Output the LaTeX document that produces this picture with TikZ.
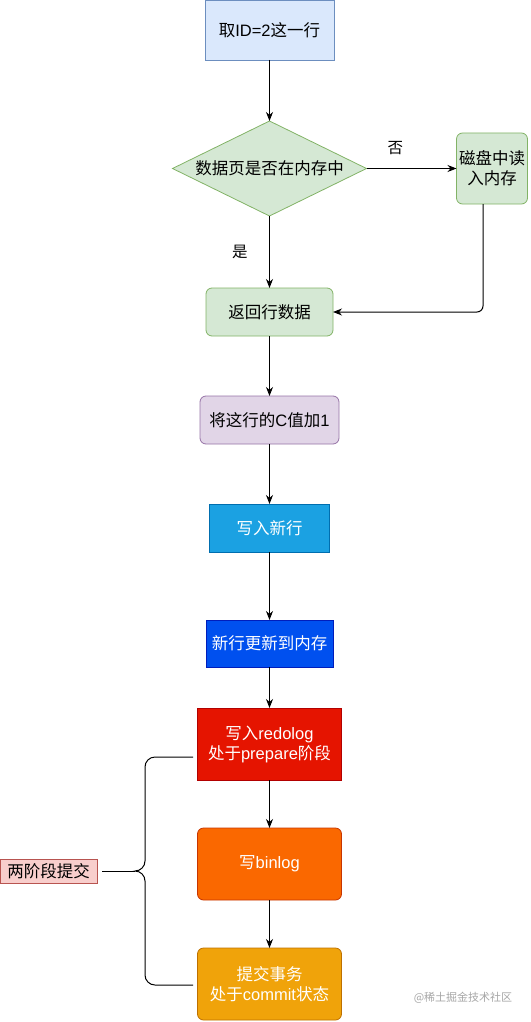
\documentclass[tikz,border=0pt]{standalone}
\usepackage{fontspec}
\setmainfont{Liberation Sans}
\newfontfamily\cjkfont{Noto Sans CJK SC}
\newcommand\zh[1]{{\cjkfont #1}}
\usepackage{tikz}
\usetikzlibrary{shapes.geometric,arrows.meta}
\usetikzlibrary{positioning}

\definecolor{idfill}{HTML}{DAE8FC}
\definecolor{idline}{HTML}{6C8EBF}
\definecolor{okfill}{HTML}{D5E8D4}
\definecolor{okline}{HTML}{82B366}
\definecolor{addfill}{HTML}{E1D5E7}
\definecolor{addline}{HTML}{9673A6}
\definecolor{newfill}{HTML}{1BA1E2}
\definecolor{newline}{HTML}{006EAF}
\definecolor{memfill}{HTML}{0050EF}
\definecolor{memline}{HTML}{001DBC}
\definecolor{redofill}{HTML}{E51400}
\definecolor{redoline}{HTML}{B20000}
\definecolor{binfill}{HTML}{FA6800}
\definecolor{binline}{HTML}{C73500}
\definecolor{cmtfill}{HTML}{F0A30A}
\definecolor{cmtline}{HTML}{BD7000}
\definecolor{twofill}{HTML}{F8CECC}
\definecolor{twoline}{HTML}{B85450}

\begin{document}
\begin{tikzpicture} [x=1pt,y=1pt,>={Stealth[length=9pt,width=7pt]},
    every node/.style={draw, line width=0.8pt, align=center, inner sep=0pt,
    outer sep=0pt, font=\fontsize{16.5pt}{20pt}\selectfont},
    box/.style={rectangle, minimum width=127pt, minimum height=48pt},
    rbox/.style={box, rounded corners=6pt},
    decide/.style={diamond, aspect=2.04, minimum width=194pt, minimum height=95pt},
    light/.style={text=white},
    con/.style={->, line width=1pt},
    lbl/.style={draw=none, font=\fontsize{15.5pt}{18pt}\cjkfont}
    ]
    \useasboundingbox (0,0) rectangle (530,-1022);
    \node (n1) [box, fill=idfill, draw=idline, minimum width=129pt,
      minimum height=60pt] at (269.5,-30) {\zh{取}ID=2\zh{这一行}};
    \node (n2) [decide, fill=okfill, draw=okline, below=61pt of n1]
      {\zh{数据页是否在内存中}};
    \node (n3) [rbox, fill=okfill, draw=okline, right=90pt of n2,
      minimum width=71pt, minimum height=71pt] {\zh{磁盘中读}\\\zh{入内存}};
    \node (n4) [rbox, fill=okfill, draw=okline, below=72pt of n2]
      {\zh{返回行数据}};
    \node (n5) [rbox, fill=addfill, draw=addline, below=60pt of n4,
      minimum width=139pt] {\zh{将这行的}C\zh{值加}1};
    \node (n6) [box, light, fill=newfill, draw=newline, below=60pt of n5,
      minimum width=120pt] {\zh{写入新行}};
    \node (n7) [box, light, fill=memfill, draw=memline, below=68pt of n6,
      minimum height=47pt] {\zh{新行更新到内存}};
    \node (n8) [box, light, fill=redofill, draw=redoline, below=41pt of n7,
      minimum width=144pt, minimum height=72pt]
      {\zh{写入}redolog\\\zh{处于}prepare\zh{阶段}};
    \node (n9) [rbox, light, fill=binfill, draw=binline, below=48pt of n8,
      minimum width=144pt, minimum height=72pt] {\zh{写}binlog};
    \node (n10) [rbox, light, fill=cmtfill, draw=cmtline, below=48pt of n9,
      minimum width=144pt, minimum height=72pt]
      {\zh{提交事务}\\\zh{处于}commit\zh{状态}};
    \node (n11) [rectangle, fill=twofill, draw=twoline, minimum width=97pt,
      minimum height=24pt] at (48.5,-871) {\zh{两阶段提交}};
    \node (mark) [draw=none, text=black!35, font=\fontsize{11pt}{13pt}\cjkfont]
      at (463,-998) {@稀土掘金技术社区};

    % brace round the two phases
    \coordinate (tip) at (135,-871);
    \draw [line width=1pt] (193,-757) -- (155,-757) to[out=180,in=90] (145,-767)
      -- (145,-861) to[out=-90,in=0] (tip) to[out=0,in=90] (145,-881)
      -- (145,-975) to[out=-90,in=180] (155,-985) -- (193,-985);

     \draw   [con]  (n1) -- (n2);
     \draw   [con]  (n2) -- node[lbl, pos=0.32, above=14pt] {否} (n3);
     \draw   [con]  (n2) -- node[lbl, midway, left=22pt] {是} (n4);
     \draw   [con, rounded corners=6pt]  ([xshift=-9pt]n3.south) |- (n4.east);
     \draw   [con]  (n4) -- (n5);
     \draw   [con]  (n5) -- (n6);
     \draw   [con]  (n6) -- (n7);
     \draw   [con]  (n7) -- (n8);
     \draw   [con]  (n8) -- (n9);
     \draw   [con]  (n9) -- (n10);
     \draw   [line width=1pt, shorten <=5pt]  (n11) -- (tip);
  \end{tikzpicture}
\end{document}
